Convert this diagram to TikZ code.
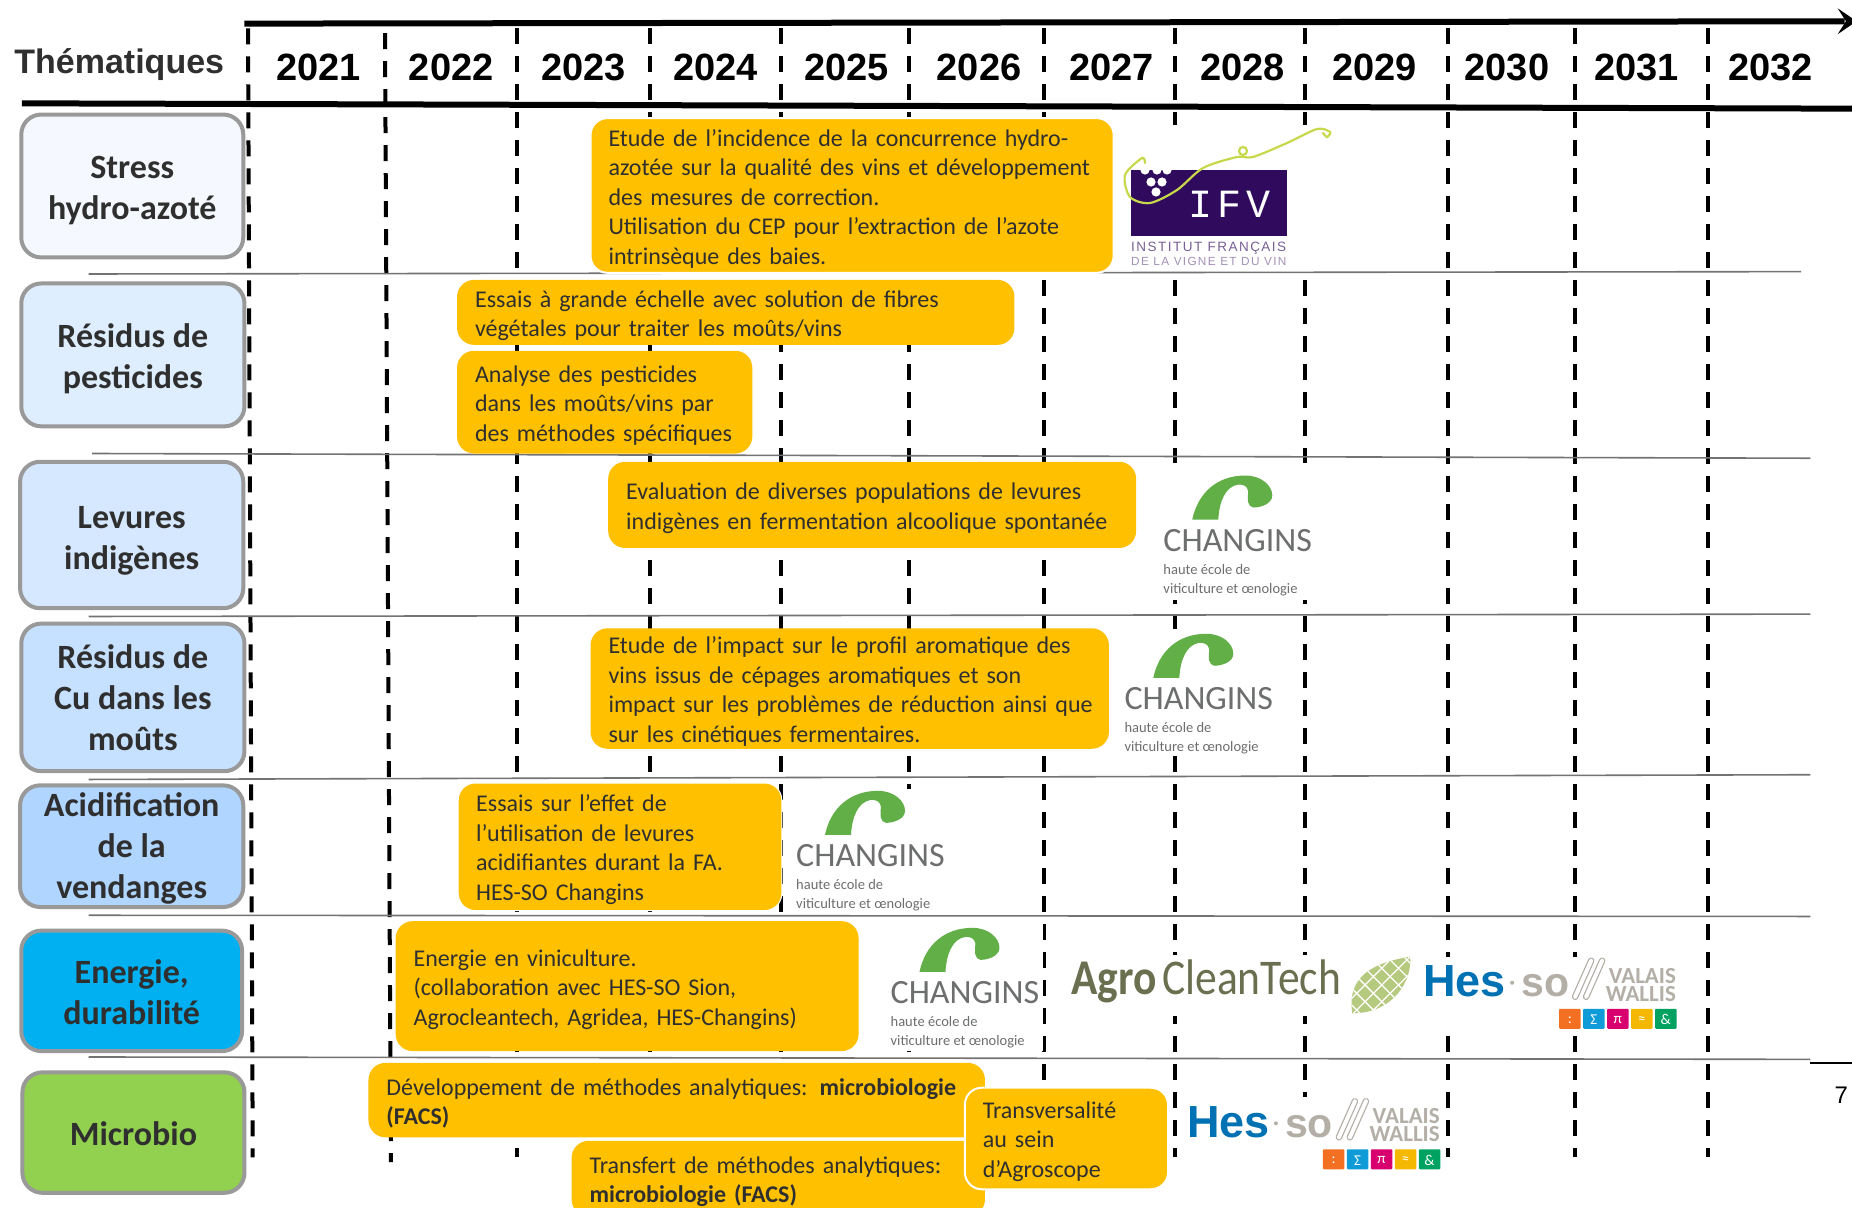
\documentclass[tikz,border=0pt]{standalone}
\usepackage{fontspec}
\usepackage{graphicx}
\setmainfont{Carlito}
\newfontfamily\arialf{Liberation Sans}
\newfontfamily\monof{Liberation Mono}
\newfontfamily\ifvfont[LetterSpace=11]{Liberation Sans}
\newcommand\fs[2]{\fontsize{#1}{#2}\selectfont}
\definecolor{orangebox}{HTML}{FFC000}
\definecolor{bordergray}{HTML}{999999}
\definecolor{ink}{HTML}{2F2F2F}
\definecolor{chgreen}{HTML}{62AF48}
\definecolor{chgray}{HTML}{6D6E6E}
\definecolor{hesblue}{HTML}{0071B2}
\definecolor{hesgray}{HTML}{B3AFA7}
\definecolor{agro}{HTML}{6A6F4F}
\definecolor{leaf}{HTML}{B5C97F}
\definecolor{ifvp}{HTML}{300A5C}
\definecolor{tendril}{HTML}{C8D84B}
\tikzset{
  yearlabel/.style={font=\arialf\bfseries\fs{38}{40},text=black,inner sep=0pt},
  timedash/.style={line width=4pt,dash pattern=on 16pt off 12pt},
  thick rule/.style={line width=6pt,black},
  rowline/.style={line width=1.6pt,color=gray!90!black},
  themebox/.style={draw=bordergray,line width=4pt,rounded corners=20pt,align=center,
    inner sep=0pt,text=ink,font=\bfseries\fs{34}{41}},
  taskbox/.style={fill=orangebox,rounded corners=17pt,inner sep=0pt,align=left,text=ink,
    font=\fs{24}{29.5}},
  logoback/.style={fill=white,draw=none},
  chbig/.style={anchor=base west,inner sep=0pt,text=chgray,font=\fs{34}{36}},
  chsmall/.style={anchor=base west,inner sep=0pt,text=chgray,font=\fs{14.5}{16}},
  sqlabel/.style={text=white,inner sep=0pt,font=\fs{15}{16}},
  vw/.style={anchor=south east,inner sep=0pt,align=right,text=hesgray,font=\bfseries\fs{23}{18}},
}
\newcommand\tbox[8][31pt]{%
  \pgfmathsetmacro\bw{(#4-#2)*1.181}\pgfmathsetmacro\bh{(#6-#3)*1.181}%
  \definecolor{tfill}{HTML}{#7}%
  \node[themebox,fill=tfill,minimum width=\bw pt,minimum height=\bh pt] (#5) at ({(#2+#4)/2},{(#3+#6)/2}) {\rule{0pt}{#1}#8};}
\newcommand\obox[7][]{%
  \pgfmathsetmacro\bw{(#4-#2)*1.181}\pgfmathsetmacro\bh{(#6-#3)*1.181}%
  \pgfmathsetmacro\bt{\bw-36}%
  \node[taskbox,#1,minimum width=\bw pt,minimum height=\bh pt,text width=\bt pt] (#2x#3) at ({(#2+#4)/2},{(#3+#6)/2}) {\rule{0pt}{23pt}#7};}
\newcommand\changinslogo[3]{%
  \begin{scope}[shift={(#2,#3)},x=1pt,y=-1pt]
    \fill[chgreen] (29,-32) .. controls (35,-60) and (55,-76) .. (82,-76)
      .. controls (98,-76) and (109,-66) .. (109,-56)
      .. controls (109,-48) and (98,-44) .. (90,-44)
      .. controls (84,-45) and (84,-52) .. (85,-60)
      .. controls (84,-66) and (80,-67) .. (75,-67)
      .. controls (62,-65) and (56,-50) .. (55,-32) -- cycle;
    \node[chbig] (#1name) at (0,0) {CHANGINS};
    \node[chsmall] (#1a) at (0,23) {haute école de};
    \node[chsmall] (#1b) at (0,42) {viticulture et œnologie};
  \end{scope}}
\newcommand\hessologo[3]{%
  \begin{scope}[shift={(#2,#3)},x=1pt,y=-1pt]
    \node[anchor=base west,inner sep=0pt,text=hesblue,font=\arialf\bfseries\fs{45}{46}] (#1hes) at (0,0) {Hes};
    \fill[hesgray] (89,-14) circle (2);
    \node[anchor=base west,inner sep=0pt,text=hesgray,font=\arialf\bfseries\fs{41}{46}] (#1so) at (98,0) {so};
    \foreach \dx in {0,11}{
      \draw[hesgray,line width=6.5pt,line cap=round] (152+\dx,0) -- (168+\dx,-36);
      \draw[white,line width=4pt,line cap=round] (152+\dx,0) -- (168+\dx,-36);
    }
    \node[vw] (#1va) at (253,5) {VALAIS\\WALLIS};
    \foreach \i/\c/\t in {0/F36F21/{:},1/0F9BD7/Σ,2/D8006F/π,3/F4B800/≈,4/00A261/\&}{
      \definecolor{sq}{HTML}{\c}
      \fill[sq,rounded corners=1pt] (136+24*\i,12) rectangle ++(21.5,20);
      \node[sqlabel] (#1sq\i) at (146.7+24*\i,23) {\t};
    }
  \end{scope}}
\begin{document}
\begin{tikzpicture}[x=1.181pt,y=-1.181pt]
\clip (0,0) rectangle (1568.17,1022.86);
\fill[white] (0,0) rectangle (1568.17,1022.86);
% year separators
\draw[timedash] (210,24) -- (214,980);
\draw[timedash] (326,28) -- (331,984);
\foreach \xx in {438,550,661,770,884,995,1105,1226,1334,1446}{
  \draw[timedash] (\xx,24) -- (\xx,980);
}
% white grounds of the logos
\fill[logoback] (948,106) rectangle (1128,230);
\fill[logoback] (980,392) rectangle (1118,508);
\fill[logoback] (948,533) rectangle (1085,640);
\fill[logoback] (668,668) rectangle (800,772);
\fill[logoback] (748,782) rectangle (883,890);
\fill[logoback] (905,809) rectangle (1197,860);
\fill[logoback] (1203,810) rectangle (1422,875);
\fill[logoback] (1003,929) rectangle (1222,994);
% rows
\draw[rowline] (75,232) -- (1525,230);
\draw[rowline] (78,384) -- (1533,388);
\draw[rowline] (75,522) -- (1533,520);
\draw[rowline] (75,660) -- (1533,656);
\draw[rowline] (75,775) -- (1533,776);
\draw[rowline] (75,895) -- (1533,897);
\draw[line width=1.4pt,black] (1533,900) -- (1568.2,900);
% header
\draw[thick rule] (207,20) -- (1562,18);
\fill[black] (1556,7) -- (1572,18) -- (1556,29) -- (1563,18) -- cycle;
\draw[thick rule] (18.6,87.5) -- (1568.2,92);
\node[anchor=west,inner sep=0pt,text=ink,font=\arialf\bfseries\fs{34}{36}] (theme) at (12,55) {Thématiques};
\foreach \yr/\xx in {2021/270,2022/382,2023/494,2024/606,2025/717,2026/829,2027/941,2028/1052,2029/1164,2030/1276,2031/1386,2032/1499}{
  \node[yearlabel] (y\yr) at (\xx,57) {\yr};
}
% themes
\tbox{18}{97}{206}{stress}{218}{F5F9FF}{Stress\\hydro-azoté}
\tbox{18}{240}{207}{pest}{361}{DEEEFF}{Résidus de\\pesticides}
\tbox[33pt]{17}{391}{206}{lev}{515}{D5E8FF}{Levures\\indigènes}
\tbox[0pt]{18}{528}{207}{cu}{653}{C6E0FF}{Résidus de\\Cu dans les\\moûts}
\tbox[28pt]{17}{665}{206}{acid}{768}{B0D5FF}{Acidification\\de la\\vendanges}
\tbox[26pt]{18}{788}{205}{ener}{890}{00B0F0}{Energie,\\durabilité}
\tbox[26pt]{19}{908}{207}{micro}{1010}{92D050}{Microbio}
% tasks
\obox[draw=white,line width=2pt]{500}{100}{943}{x}{231}{Etude de l'incidence de la concurrence hydro-\\azotée sur la qualité des vins et développement\\des mesures de correction.\\Utilisation du CEP pour l’extraction de l’azote\\intrinsèque des baies.}
\obox{387}{237}{859}{x}{292}{Essais à grande échelle avec solution de fibres\\végétales pour traiter les moûts/vins}
\obox{387}{297}{637}{x}{384}{Analyse des pesticides\\dans les moûts/vins par\\des méthodes spécifiques}
\obox{515}{391}{962}{x}{464}{Evaluation de diverses populations de levures\\indigènes en fermentation alcoolique spontanée}
\obox{500}{532}{939}{x}{634}{Etude de l'impact sur le profil aromatique des\\vins issus de cépages aromatiques et son\\\mbox{impact sur les problèmes de réduction ainsi que}\\sur les cinétiques fermentaires.}
\obox[draw=white,line width=1pt]{388}{663}{662}{x}{771}{Essais sur l’effet de\\l’utilisation de levures\\acidifiantes durant la FA.\\HES-SO Changins}
\obox{335}{780}{727}{x}{890}{Energie en viniculture.\\(collaboration avec HES-SO Sion,\\Agrocleantech, Agridea, HES-Changins)}
\obox{484}{966}{834}{x}{1030}{Transfert de méthodes analytiques:\\\textbf{microbiologie (FACS)}}
\obox{312}{900}{834}{x}{963}{Développement de méthodes analytiques: \textbf{microbiologie}\\\textbf{(FACS)}}
\obox[draw=white,line width=2pt]{817}{921}{989}{x}{1007}{Transversalité\\au sein\\d’Agroscope}
% IFV logo
\begin{scope}[x=1pt,y=-1pt]
  \fill[ifvp] (1131,170) rectangle (1287,236);
  \foreach \gx/\gy in {1145/170,1157/170,1167/170,1151/182,1162/182,1156/192}{
    \fill[white] (\gx,\gy) circle (4.6);
  }
  \node[anchor=base,inner sep=0pt,text=white,font=\monof\fs{40}{44}] (ifv) at (1229,218) {I\kern5pt F\kern5pt V};
  \draw[tendril,line width=2.2pt,line cap=round] plot[smooth] coordinates {(1145,163) (1142,158) (1125,175) (1130,197) (1150,203) (1177,190) (1203,168) (1237,157) (1253,157) (1287,143) (1317,129) (1330,132) (1327,137) (1323,133)};
  \draw[tendril,line width=2.2pt] (1243,151) circle (4);
  \node[anchor=base west,inner sep=0pt,text=ifvp!65!white,font=\ifvfont\fs{13.5}{14}] (ifva) at (1131,252) {INSTITUT FRANÇAIS};
  \node[anchor=base west,inner sep=0pt,text=ifvp!45!white,font=\ifvfont\fs{11.8}{14}] (ifvb) at (1131,266) {DE LA VIGNE ET DU VIN};
\end{scope}
% Changins logos
\changinslogo{cha}{985}{467}
\changinslogo{chb}{952}{601}
\changinslogo{chc}{674}{734}
\changinslogo{chd}{754}{850}
% AgroCleanTech
\node[anchor=base west,inner sep=0pt,text=agro,font=\bfseries\fs{50}{52}] (agro) at (907,842) {\scalebox{0.87}[1]{Agro}};
\node[anchor=base west,inner sep=0pt,text=agro,font=\fs{50}{52}] (clean) at (984,842) {\scalebox{0.87}[1]{CleanTech}};
\begin{scope}
  \clip (1145,858) .. controls (1140,825) and (1165,815) .. (1194,810) .. controls (1196,830) and (1180,858) .. (1145,858) -- cycle;
  \fill[leaf] (1140,805) rectangle (1200,862);
  \foreach \i in {-6,...,6}{
    \draw[white,line width=1.3pt,rotate around={-45:(1170,834)}] (1130,834+\i*10) -- (1210,834+\i*10);
    \draw[white,line width=1.3pt,rotate around={-45:(1170,834)}] (1170+\i*10,790) -- (1170+\i*10,880);
  }
\end{scope}
% Hes-so logos
\hessologo{hsa}{1205}{844}
\hessologo{hsb}{1005}{963}
% page number
\node[inner sep=0pt,text=black,font=\arialf\fs{24}{26}] (pageno) at (1559,927) {7};
\end{tikzpicture}
\end{document}
